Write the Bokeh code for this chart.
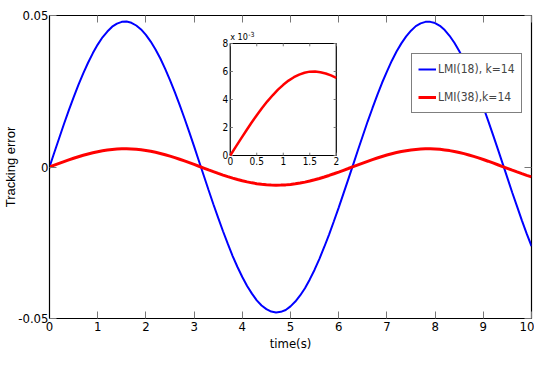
from bokeh.plotting import figure
from bokeh.models import Range1d, FixedTicker, LinearAxis, Legend, LegendItem
from bokeh.core.properties import value
from bokeh.embed import file_html
from bokeh.resources import INLINE

# ---------------- data ----------------
t = [round(i * 0.1, 1) for i in range(101)]  # time grid 0 .. 10 s
lmi18 = [0, .0048, .0095, .0142, .0187, .0230, .0271, .0309, .0344, .0376,
         .0404, .0428, .0447, .0463, .0473, .0479, .0480, .0476, .0467, .0454,
         .0436, .0414, .0388, .0358, .0324, .0287, .0247, .0205, .0161, .0115,
         .0068, .0020, -.0028, -.0076, -.0123, -.0168, -.0212, -.0254, -.0294, -.0330,
         -.0363, -.0393, -.0418, -.0440, -.0457, -.0469, -.0477, -.0480, -.0478, -.0472,
         -.0460, -.0444, -.0424, -.0400, -.0371, -.0339, -.0303, -.0264, -.0223, -.0179,
         -.0134, -.0087, -.0040, .0008, .0056, .0103, .0150, .0194, .0237, .0278,
         .0315, .0350, .0381, .0408, .0431, .0450, .0465, .0474, .0479, .0479,
         .0475, .0466, .0452, .0433, .0410, .0383, .0353, .0318, .0281, .0240,
         .0198, .0153, .0107, .0060, .0012, -.0036, -.0084, -.0130, -.0176, -.0220,
         -.0261]
lmi38 = [0, .00060, .00119, .00177, .00234, .00288, .00339, .00387, .00430, .00470,
         .00505, .00535, .00559, .00578, .00591, .00599, .00600, .00595, .00584, .00568,
         .00546, .00518, .00485, .00447, .00405, .00359, .00309, .00256, .00201, .00144,
         .00085, .00025, -.00035, -.00095, -.00153, -.00210, -.00266, -.00318, -.00367, -.00413,
         -.00454, -.00491, -.00523, -.00550, -.00571, -.00587, -.00596, -.00600, -.00598, -.00590,
         -.00575, -.00555, -.00530, -.00499, -.00464, -.00423, -.00379, -.00330, -.00279, -.00224,
         -.00168, -.00109, -.00050, .00010, .00070, .00129, .00187, .00243, .00296, .00347,
         .00394, .00437, .00476, .00510, .00539, .00563, .00581, .00593, .00599, .00599,
         .00594, .00582, .00564, .00541, .00513, .00479, .00441, .00398, .00351, .00301,
         .00247, .00191, .00134, .00075, .00015, -.00045, -.00105, -.00163, -.00220, -.00275,
         -.00326]
x_ticks = [0, 1, 2, 3, 4, 5, 6, 7, 8, 9, 10]
y_ticks = [-0.05, 0, 0.05]
y_tick_labels = ["-0.05", "0", "0.05"]
legend_labels = ["LMI(18), k=14", "LMI(38),k=14"]

# inset (zoom of LMI(38) for 0..2 s, units of 1e-3)
inset_t = [0, .1, .2, .3, .4, .5, .6, .7, .8, .9, 1.0, 1.1, 1.2, 1.3, 1.4, 1.5,
           1.6, 1.7, 1.8, 1.9, 2.0]
inset_v = [0, 0.60, 1.19, 1.77, 2.34, 2.88, 3.39, 3.87, 4.30, 4.70, 5.05, 5.35,
           5.59, 5.78, 5.91, 5.99, 6.00, 5.95, 5.86, 5.72, 5.55]
inset_x_ticks = [0, 0.5, 1, 1.5, 2]
inset_x_labels = ["0", "0.5", "1", "1.5", "2"]
inset_y_ticks = [0, 2, 4, 6, 8]
inset_y_labels = ["0", "2", "4", "6", "8"]

FONT = "DejaVu Sans Condensed, Liberation Sans"
TICK_COLOR = "#777777"

p = figure(width=534, height=355, output_backend="svg", toolbar_location=None,
           x_range=Range1d(0, 10), y_range=Range1d(-0.05, 0.05),
           min_border_left=46, min_border_right=3, min_border_top=15,
           min_border_bottom=37)
p.grid.visible = False
p.outline_line_color = "black"
p.outline_line_width = 1.2
p.background_fill_color = "white"
p.border_fill_color = "white"

for ax in (p.xaxis[0], p.yaxis[0]):
    ax.major_tick_in = 7
    ax.major_tick_out = 0
    ax.minor_tick_line_color = None
    ax.major_tick_line_color = TICK_COLOR
    ax.axis_line_color = "black"
    ax.major_label_text_font = FONT
    ax.major_label_text_font_size = "13px"
    ax.major_label_text_color = "black"
    ax.axis_label_text_font_style = "normal"
    ax.axis_label_text_color = "black"

p.xaxis[0].ticker = FixedTicker(ticks=x_ticks)
p.xaxis[0].major_label_standoff = 3
p.xaxis[0].axis_label = "time(s)"
p.xaxis[0].axis_label_text_font = FONT
p.xaxis[0].axis_label_text_font_size = "13px"
p.xaxis[0].axis_label_standoff = 2

p.yaxis[0].ticker = FixedTicker(ticks=y_ticks)
p.yaxis[0].major_label_overrides = {tk: lb for tk, lb in zip(y_ticks, y_tick_labels)}
p.yaxis[0].major_label_standoff = 1
p.yaxis[0].axis_label = "Tracking error"
p.yaxis[0].axis_label_text_font = "Liberation Sans"
p.yaxis[0].axis_label_text_font_size = "13px"
p.yaxis[0].axis_label_standoff = -3

blank_x = {tk: "" for tk in x_ticks}
blank_y = {tk: "" for tk in y_ticks}
top = LinearAxis(ticker=FixedTicker(ticks=x_ticks), major_label_overrides=blank_x,
                 major_label_text_font_size="4px", major_label_standoff=0,
                 major_tick_in=7, major_tick_out=0, major_tick_line_color=TICK_COLOR,
                 axis_line_color=None, minor_tick_line_color=None)
right = LinearAxis(ticker=FixedTicker(ticks=y_ticks), major_label_overrides=blank_y,
                   major_label_text_font_size="4px", major_label_standoff=0,
                   major_tick_in=7, major_tick_out=0, major_tick_line_color=TICK_COLOR,
                   axis_line_color=None, minor_tick_line_color=None)
p.add_layout(top, "above")
p.add_layout(right, "right")

r1 = p.line(t, lmi18, line_color="#0000ff", line_width=2)
r2 = p.line(t, lmi38, line_color="#ff0000", line_width=3)

legend = Legend(items=[LegendItem(label=legend_labels[0], renderers=[r1]),
                       LegendItem(label=legend_labels[1], renderers=[r2])],
                location=(362, 205), label_text_font=FONT,
                label_text_font_size="12px", border_line_color="black",
                border_line_width=1, background_fill_alpha=1,
                glyph_width=18, glyph_height=14, label_height=18, spacing=10,
                padding=6, margin=0, label_standoff=2)
p.add_layout(legend)

# ---------------- inset ----------------
sub = p.subplot(x_source=Range1d(0, 2), y_source=Range1d(0, 8),
                x_target=Range1d(3.75, 5.95), y_target=Range1d(0.0038, 0.04076))
sub.quad(left=[0], right=[2], bottom=[0], top=[8], fill_color="white",
         line_color="black", line_width=1.2)
tick_len_x = 0.05
tick_len_y = 0.2
n_x = len(inset_x_ticks)
n_y = len(inset_y_ticks)
sub.segment(x0=inset_x_ticks, y0=[0] * n_x, x1=inset_x_ticks, y1=[tick_len_y] * n_x,
            line_color=TICK_COLOR)
sub.segment(x0=inset_x_ticks, y0=[8] * n_x, x1=inset_x_ticks, y1=[8 - tick_len_y] * n_x,
            line_color=TICK_COLOR)
sub.segment(x0=[0] * n_y, y0=inset_y_ticks, x1=[tick_len_x] * n_y, y1=inset_y_ticks,
            line_color=TICK_COLOR)
sub.segment(x0=[2] * n_y, y0=inset_y_ticks, x1=[2 - tick_len_x] * n_y, y1=inset_y_ticks,
            line_color=TICK_COLOR)
sub.line(inset_t, inset_v, line_color="#ff0000", line_width=2.5)
sub.text(x=inset_x_ticks, y=[0] * n_x, text=inset_x_labels, text_align="center",
         text_baseline="top", y_offset=2, text_font=value(FONT),
         text_font_size="10px")
sub.text(x=[0] * n_y, y=inset_y_ticks, text=inset_y_labels, text_align="right",
         text_baseline="middle", x_offset=-2, text_font=value(FONT),
         text_font_size="10px")
sub.text(x=[0], y=[8], text=["x 10"], text_align="left", text_baseline="bottom",
         y_offset=-1, text_font=value(FONT), text_font_size="9px")
sub.text(x=[0], y=[8], text=["-3"], text_align="left", text_baseline="bottom",
         x_offset=18, y_offset=-6, text_font=value(FONT), text_font_size="7px")

open("out.html", "w").write(file_html(p, INLINE))
